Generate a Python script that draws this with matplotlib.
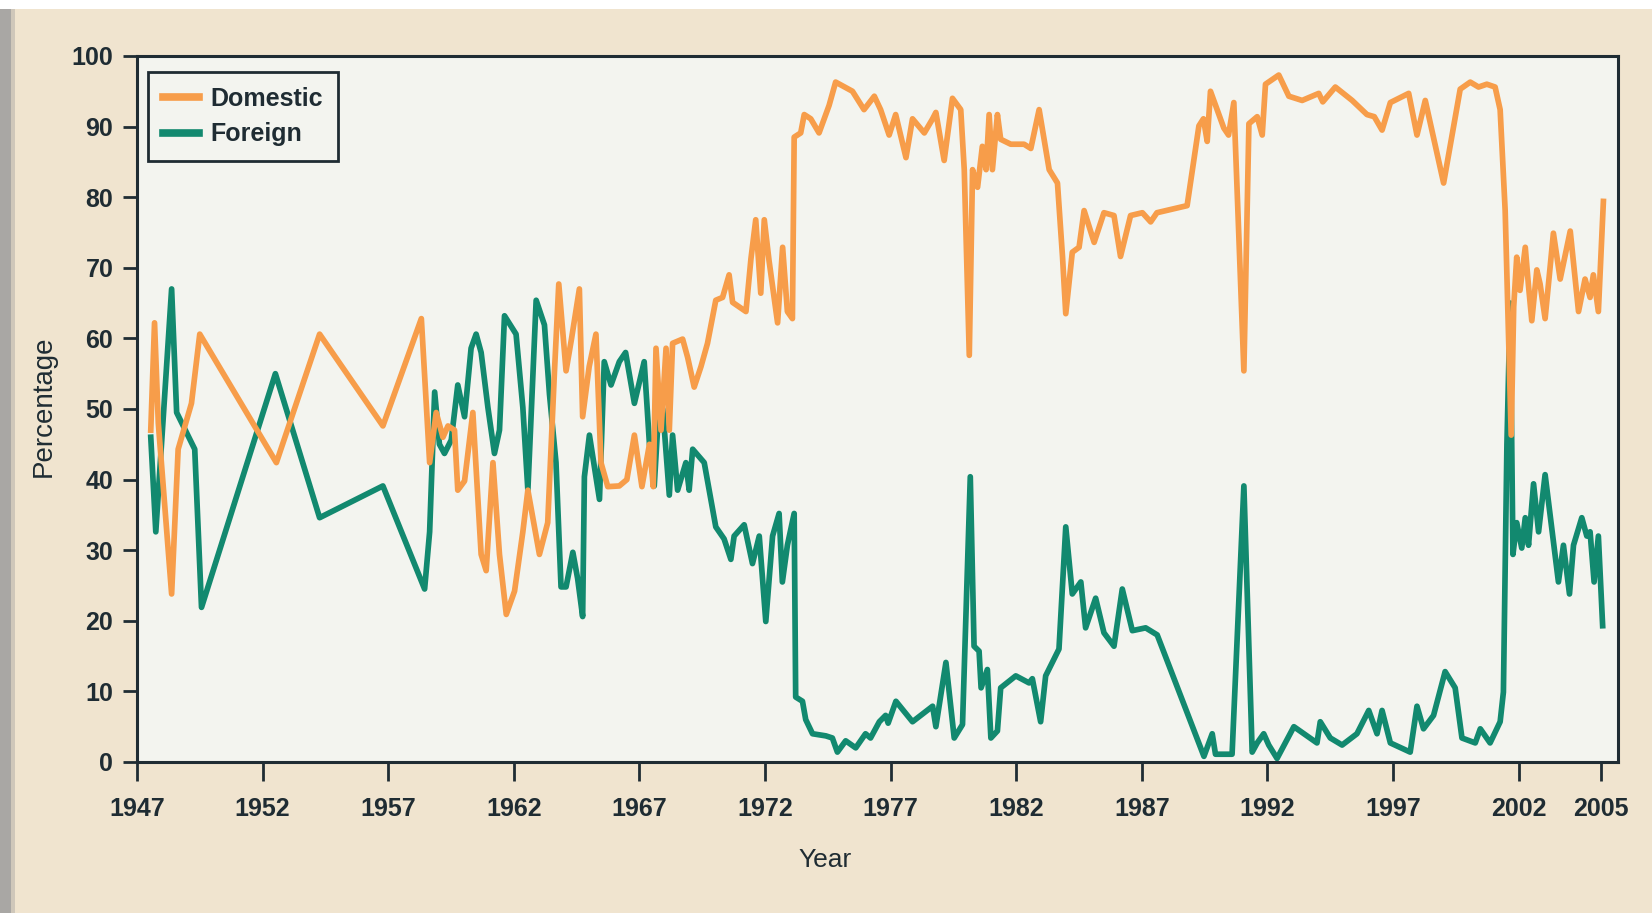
import matplotlib
matplotlib.use("Agg")
import matplotlib.pyplot as plt
from matplotlib.patches import Rectangle
from matplotlib.lines import Line2D

# --- data (share of total, %) ---
DOMESTIC_YEARS = [
    1947.55, 1947.70, 1947.85, 1948.38, 1948.64, 1949.17, 1949.50, 1952.55, 1954.27, 1956.79,
    1958.32, 1958.65, 1958.91, 1959.18, 1959.38, 1959.64, 1959.77, 1960.04, 1960.37, 1960.70,
    1960.90, 1961.17, 1961.43, 1961.70, 1962.03, 1962.36, 1962.56, 1963.02, 1963.35, 1963.62,
    1963.79, 1964.08, 1964.30, 1964.61, 1964.74, 1965.00, 1965.27, 1965.47, 1965.74, 1966.20,
    1966.50, 1966.80, 1967.10, 1967.40, 1967.55, 1967.66, 1967.86, 1968.06, 1968.19, 1968.32,
    1968.72, 1968.92, 1969.18, 1969.45, 1969.71, 1970.04, 1970.31, 1970.57, 1970.71, 1971.24,
    1971.44, 1971.63, 1971.83, 1971.97, 1972.16, 1972.50, 1972.70, 1972.89, 1973.09, 1973.16,
    1973.42, 1973.56, 1973.82, 1974.15, 1974.55, 1974.81, 1975.48, 1975.94, 1976.35, 1976.60,
    1976.94, 1977.20, 1977.61, 1977.87, 1978.34, 1978.67, 1978.80, 1979.13, 1979.46, 1979.79,
    1979.93, 1980.13, 1980.26, 1980.46, 1980.65, 1980.80, 1980.92, 1981.05, 1981.25, 1981.38,
    1981.78, 1982.31, 1982.58, 1982.91, 1983.31, 1983.64, 1983.84, 1983.97, 1984.23, 1984.50,
    1984.70, 1985.10, 1985.49, 1985.89, 1986.15, 1986.55, 1987.02, 1987.35, 1987.60, 1988.80,
    1989.27, 1989.45, 1989.60, 1989.73, 1990.26, 1990.45, 1990.66, 1991.06, 1991.26, 1991.59,
    1991.79, 1991.92, 1992.45, 1992.85, 1993.38, 1994.04, 1994.20, 1994.70, 1995.37, 1995.96,
    1996.25, 1996.56, 1996.89, 1997.62, 1997.95, 1998.28, 1999.01, 1999.67, 2000.07, 2000.40,
    2000.73, 2001.06, 2001.26, 2001.46, 2001.70, 2001.80, 2001.92, 2002.05, 2002.26, 2002.39,
    2002.52, 2002.72, 2002.85, 2003.05, 2003.38, 2003.65, 2004.05, 2004.38, 2004.64, 2004.84,
    2004.97, 2005.17, 2005.37,
]
DOMESTIC_PCT = [
    47.0, 62.2, 48.0, 23.8, 44.3, 50.8, 60.6, 42.4, 60.6, 47.6,
    62.8, 42.4, 49.5, 46.0, 47.6, 47.0, 38.5, 39.8, 49.5, 29.4,
    27.1, 42.4, 29.4, 20.9, 24.2, 32.6, 38.5, 29.4, 33.9, 55.4,
    67.7, 55.4, 60.0, 67.0, 48.9, 56.0, 60.6, 42.4, 39.0, 39.1,
    40.0, 46.3, 39.0, 45.0, 39.0, 58.6, 47.0, 58.6, 47.0, 59.3,
    59.9, 57.3, 53.1, 56.0, 59.3, 65.4, 65.8, 69.0, 65.1, 63.8,
    71.3, 76.8, 66.4, 76.8, 71.0, 62.2, 72.9, 63.8, 62.8, 88.5,
    89.1, 91.7, 91.1, 89.1, 93.0, 96.3, 95.0, 92.4, 94.3, 92.4,
    88.8, 91.7, 85.6, 91.1, 89.1, 91.1, 92.0, 85.2, 94.0, 92.4,
    83.9, 57.6, 83.9, 81.4, 87.2, 83.9, 91.7, 83.9, 91.7, 88.2,
    87.5, 87.5, 86.9, 92.4, 83.9, 82.0, 71.6, 63.5, 72.2, 72.9,
    78.1, 73.6, 77.8, 77.4, 71.6, 77.4, 77.8, 76.5, 77.8, 78.8,
    90.1, 91.1, 87.9, 95.0, 89.8, 88.8, 93.4, 55.4, 90.4, 91.4,
    88.8, 96.0, 97.3, 94.3, 93.7, 94.7, 93.5, 95.6, 93.7, 91.7,
    91.4, 89.5, 93.4, 94.7, 88.8, 93.7, 82.0, 95.3, 96.3, 95.6,
    96.0, 95.6, 92.4, 78.1, 46.3, 64.5, 71.5, 66.8, 72.9, 67.4,
    62.5, 69.7, 67.7, 62.8, 74.9, 68.4, 75.2, 63.8, 68.4, 65.8,
    69.0, 63.8, 79.4,
]

FOREIGN_YEARS = [
    1947.55, 1947.75, 1948.38, 1948.58, 1949.30, 1949.57, 1952.51, 1954.27, 1956.79, 1958.45,
    1958.65, 1958.85, 1959.04, 1959.24, 1959.51, 1959.77, 1960.04, 1960.30, 1960.50, 1960.70,
    1960.97, 1961.23, 1961.43, 1961.63, 1962.09, 1962.36, 1962.56, 1962.89, 1963.22, 1963.42,
    1963.68, 1963.88, 1964.08, 1964.35, 1964.54, 1964.74, 1964.81, 1965.01, 1965.21, 1965.41,
    1965.60, 1965.87, 1966.20, 1966.45, 1966.80, 1967.19, 1967.40, 1967.59, 1967.72, 1967.93,
    1968.19, 1968.32, 1968.52, 1968.85, 1968.98, 1969.12, 1969.58, 1970.04, 1970.37, 1970.64,
    1970.77, 1971.17, 1971.50, 1971.77, 1972.03, 1972.30, 1972.56, 1972.69, 1972.89, 1973.16,
    1973.22, 1973.49, 1973.62, 1973.89, 1974.42, 1974.68, 1974.88, 1975.21, 1975.61, 1976.00,
    1976.20, 1976.55, 1976.80, 1976.90, 1977.21, 1977.87, 1978.34, 1978.67, 1978.80, 1979.20,
    1979.53, 1979.86, 1980.17, 1980.32, 1980.52, 1980.60, 1980.85, 1980.99, 1981.25, 1981.38,
    1981.98, 1982.51, 1982.64, 1982.97, 1983.17, 1983.70, 1983.97, 1984.23, 1984.57, 1984.76,
    1985.16, 1985.49, 1985.89, 1986.22, 1986.62, 1987.15, 1987.61, 1989.47, 1989.80, 1989.93,
    1990.59, 1991.06, 1991.39, 1991.59, 1991.85, 1992.05, 1992.38, 1993.05, 1993.97, 1994.10,
    1994.50, 1994.97, 1995.56, 1996.03, 1996.36, 1996.56, 1996.89, 1997.68, 1997.95, 1998.21,
    1998.61, 1999.07, 1999.47, 1999.74, 2000.27, 2000.47, 2000.86, 2001.26, 2001.39, 2001.53,
    2001.66, 2001.77, 2001.92, 2002.12, 2002.26, 2002.39, 2002.59, 2002.79, 2003.05, 2003.58,
    2003.78, 2004.02, 2004.18, 2004.51, 2004.71, 2004.84, 2005.00, 2005.17, 2005.34,
]
FOREIGN_PCT = [
    46.0, 32.6, 67.0, 49.5, 44.3, 21.9, 55.0, 34.6, 39.1, 24.5,
    32.6, 52.4, 45.0, 43.7, 45.6, 53.4, 48.9, 58.6, 60.6, 58.0,
    50.2, 43.7, 47.0, 63.2, 60.6, 50.2, 38.5, 65.4, 61.9, 52.1,
    42.4, 24.8, 24.8, 29.7, 26.0, 20.6, 40.4, 46.3, 41.7, 37.2,
    56.7, 53.4, 56.7, 58.0, 50.8, 56.7, 45.0, 39.1, 47.0, 50.0,
    37.8, 46.3, 38.5, 42.4, 38.5, 44.3, 42.4, 33.3, 31.6, 28.7,
    32.0, 33.6, 28.1, 32.0, 19.9, 32.0, 35.2, 25.5, 30.7, 35.2,
    9.2, 8.6, 6.0, 4.0, 3.7, 3.4, 1.4, 3.0, 2.0, 4.0,
    3.4, 5.7, 6.6, 5.5, 8.6, 5.7, 7.0, 7.9, 5.0, 14.1,
    3.4, 5.3, 40.4, 16.4, 15.7, 10.5, 13.1, 3.4, 4.4, 10.5,
    12.2, 11.2, 11.8, 5.7, 12.2, 16.0, 33.3, 23.8, 25.5, 19.0,
    23.2, 18.3, 16.4, 24.5, 18.6, 19.0, 18.0, 0.8, 4.0, 1.1,
    1.1, 39.1, 1.4, 2.7, 4.0, 2.4, 0.5, 5.0, 2.7, 5.7,
    3.4, 2.4, 4.0, 7.3, 4.0, 7.3, 2.7, 1.4, 7.9, 4.7,
    6.6, 12.8, 10.5, 3.4, 2.7, 4.7, 2.7, 5.7, 9.9, 45.0,
    65.0, 29.4, 33.9, 30.3, 34.6, 30.7, 39.4, 32.6, 40.7, 25.5,
    30.7, 23.8, 30.7, 34.6, 32.0, 32.6, 25.5, 32.0, 19.3,
]

X_TICKS = [1947, 1952, 1957, 1962, 1967, 1972, 1977, 1982, 1987, 1992, 1997, 2002, 2005.27]
X_TICK_LABELS = ['1947', '1952', '1957', '1962', '1967', '1972', '1977', '1982',
                 '1987', '1992', '1997', '2002', '2005']
Y_TICKS = list(range(0, 101, 10))

ORANGE = '#f79d4a'
GREEN = '#12896f'
DARK = '#1f2c33'
FIG_BG = '#f0e4cf'
PLOT_BG = '#f3f4ef'
FONT = ['Liberation Sans', 'DejaVu Sans']

fig = plt.figure(figsize=(16.52, 9.13), dpi=100, facecolor=FIG_BG)

# white strip along the top and grey shadow down the left, as in the scan
fig.patches.append(Rectangle((0, 0.99), 1, 0.01, transform=fig.transFigure,
                             facecolor='white', edgecolor='none', zorder=0))
fig.patches.append(Rectangle((0, 0), 0.0065, 0.99, transform=fig.transFigure,
                             facecolor='#a9a7a4', edgecolor='none', zorder=0))
fig.patches.append(Rectangle((0.0065, 0), 0.0025, 0.99, transform=fig.transFigure,
                             facecolor='#cfc7ba', edgecolor='none', zorder=0))

ax = fig.add_axes([0.0829, 0.1654, 0.8965, 0.7733])
ax.set_facecolor(PLOT_BG)

ax.plot(FOREIGN_YEARS, FOREIGN_PCT, color=GREEN, lw=4.1, zorder=2)
ax.plot(DOMESTIC_YEARS, DOMESTIC_PCT, color=ORANGE, lw=4.1, zorder=3)

ax.set_xlim(1947, 2005.95)
ax.set_ylim(0, 100)
ax.set_xticks(X_TICKS)
ax.set_xticklabels(X_TICK_LABELS)
ax.set_yticks(Y_TICKS)

for side in ['left', 'right', 'top', 'bottom']:
    ax.spines[side].set_color(DARK)
    ax.spines[side].set_linewidth(2.2)

ax.tick_params(axis='y', direction='out', length=10, width=2, pad=7,
               colors=DARK, labelsize=18)
ax.tick_params(axis='x', direction='out', length=14, width=2, pad=11,
               colors=DARK, labelsize=18)
for lbl in ax.get_xticklabels() + ax.get_yticklabels():
    lbl.set_family(FONT)
    lbl.set_fontweight('bold')

fig.text(44 / 1652, 1 - 406 / 913, 'Percentage', rotation=90, ha='center', va='center',
         fontsize=20, family=FONT, color=DARK)
fig.text(825 / 1652, 1 - 860 / 913, 'Year', ha='center', va='center',
         fontsize=19, family=FONT, color=DARK)

handles = [Line2D([], [], color=ORANGE, lw=5.5), Line2D([], [], color=GREEN, lw=5.5)]
leg = ax.legend(handles, ['Domestic', 'Foreign'], loc='upper left',
                bbox_to_anchor=(0.0074, 0.977), borderaxespad=0, fancybox=False,
                edgecolor=DARK, facecolor=PLOT_BG, framealpha=1,
                handlelength=1.45, handletextpad=0.45, borderpad=0.6, labelspacing=0.45,
                prop={'family': FONT, 'weight': 'bold', 'size': 18})
leg.get_frame().set_linewidth(2)
for t in leg.get_texts():
    t.set_color(DARK)

fig.savefig('out.png', dpi=100, facecolor=FIG_BG)
